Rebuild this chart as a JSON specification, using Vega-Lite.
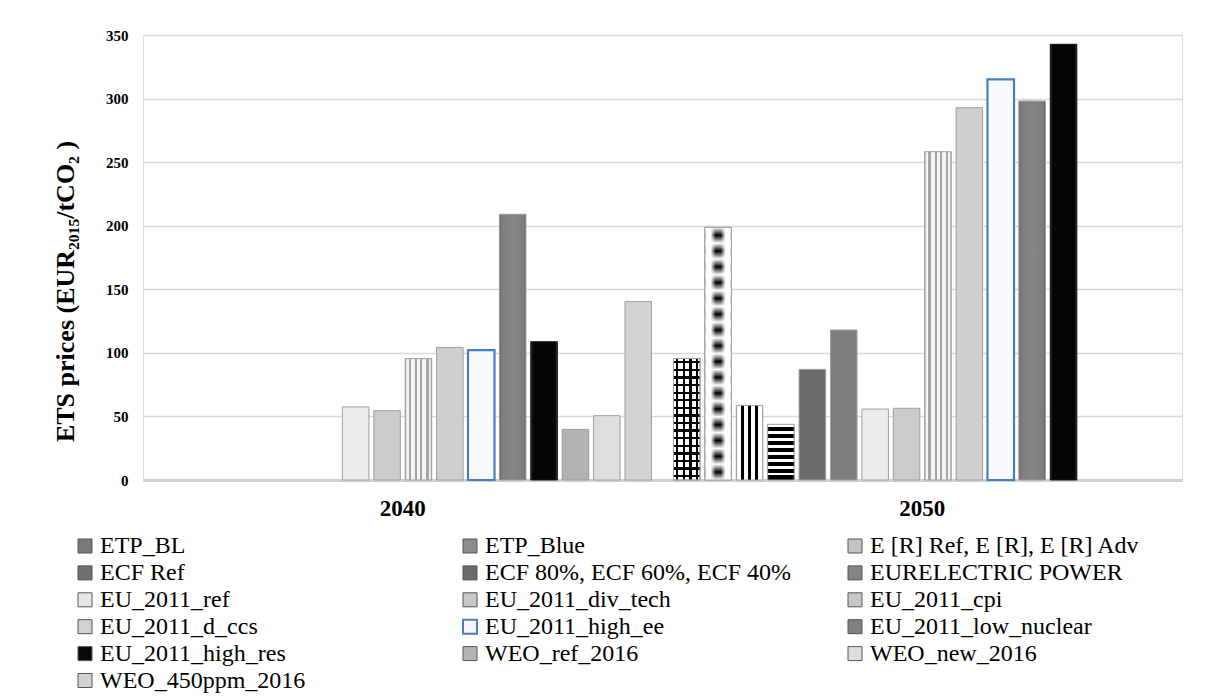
{
  "$schema": "https://vega.github.io/schema/vega-lite/v6.json",
  "width": 1039,
  "height": 445,
  "autosize": {"type": "none"},
  "padding": {"left": 143, "top": 35, "right": 24, "bottom": 220},
  "background": "white",
  "config": {"font": "Liberation Serif", "view": {"stroke": "#dcdcdc", "strokeWidth": 1}},
  "data": {"values": [
    {"year": "2040", "series": "EU_2011_ref", "value": 57.5},
    {"year": "2040", "series": "EU_2011_div_tech", "value": 54.5},
    {"year": "2040", "series": "EU_2011_cpi", "value": 95.5},
    {"year": "2040", "series": "EU_2011_d_ccs", "value": 104.3},
    {"year": "2040", "series": "EU_2011_high_ee", "value": 102.2},
    {"year": "2040", "series": "EU_2011_low_nuclear", "value": 209},
    {"year": "2040", "series": "EU_2011_high_res", "value": 108.7},
    {"year": "2040", "series": "WEO_ref_2016", "value": 39.8},
    {"year": "2040", "series": "WEO_new_2016", "value": 50.6},
    {"year": "2040", "series": "WEO_450ppm_2016", "value": 140.3},
    {"year": "2050", "series": "ETP_BL", "value": 95.6},
    {"year": "2050", "series": "ETP_Blue", "value": 198.7},
    {"year": "2050", "series": "E [R] Ref, E [R], E [R] Adv", "value": 58.7},
    {"year": "2050", "series": "ECF Ref", "value": 43.8},
    {"year": "2050", "series": "ECF 80%, ECF 60%, ECF 40%", "value": 87.0},
    {"year": "2050", "series": "EURELECTRIC POWER", "value": 118},
    {"year": "2050", "series": "EU_2011_ref", "value": 55.8},
    {"year": "2050", "series": "EU_2011_div_tech", "value": 56.4},
    {"year": "2050", "series": "EU_2011_cpi", "value": 258.2},
    {"year": "2050", "series": "EU_2011_d_ccs", "value": 292.8},
    {"year": "2050", "series": "EU_2011_high_ee", "value": 315.1},
    {"year": "2050", "series": "EU_2011_low_nuclear", "value": 298.1},
    {"year": "2050", "series": "EU_2011_high_res", "value": 342.7}
  ]},
  "encoding": {
    "x": {
      "field": "year", "type": "nominal",
      "scale": {"paddingInner": 0, "paddingOuter": 0},
      "axis": {"title": null, "labelAngle": 0, "labelFont": "Liberation Serif", "labelFontWeight": "bold", "labelFontSize": 23, "labelColor": "black", "labelPadding": 17, "ticks": false, "domainColor": "#d0d0d0", "domainWidth": 3, "grid": false}
    },
    "xOffset": {
      "field": "series", "type": "nominal",
      "scale": {"domain": ["ETP_BL","ETP_Blue","E [R] Ref, E [R], E [R] Adv","ECF Ref","ECF 80%, ECF 60%, ECF 40%","EURELECTRIC POWER","EU_2011_ref","EU_2011_div_tech","EU_2011_cpi","EU_2011_d_ccs","EU_2011_high_ee","EU_2011_low_nuclear","EU_2011_high_res","WEO_ref_2016","WEO_new_2016","WEO_450ppm_2016"], "paddingInner": 0.155, "paddingOuter": 0.35}
    },
    "y": {
      "field": "value", "type": "quantitative",
      "scale": {"domain": [0, 350]},
      "axis": {"title": "ETS prices  (EUR₂₀₁₅/tCO₂ )", "values": [0, 50, 100, 150, 200, 250, 300, 350], "grid": true, "gridColor": "#d9d9d9", "gridWidth": 1.5, "domain": false, "ticks": false, "labelFont": "Liberation Serif", "labelFontWeight": "bold", "labelFontSize": 15, "labelColor": "black", "labelPadding": 15, "titleFont": "Liberation Serif", "titleFontSize": 26, "titleFontWeight": "bold", "titleColor": "black", "titleX": -78, "titleY": 256, "titleAngle": -90, "titleAlign": "center", "titleBaseline": "middle"}
    }
  },
  "layer": [
    {
      "mark": {"type": "bar"},
      "encoding": {
        "fill": {
          "field": "series", "type": "nominal",
          "scale": {
            "domain": ["ETP_BL","ETP_Blue","E [R] Ref, E [R], E [R] Adv","ECF Ref","ECF 80%, ECF 60%, ECF 40%","EURELECTRIC POWER","EU_2011_ref","EU_2011_div_tech","EU_2011_cpi","EU_2011_d_ccs","EU_2011_high_ee","EU_2011_low_nuclear","EU_2011_high_res","WEO_ref_2016","WEO_new_2016","WEO_450ppm_2016"],
            "range": ["#7a7a7a","#8c8c8c","#c4c4c4","#707070","#6b6b6b","#858585","#e8e8e8","#c8c8c8","#c6c6c6","#d2d2d2","#f5f7fb","#808080","#0a0a0a","#b4b4b4","#dedede","#d2d2d2"]
          },
          "legend": {
            "orient": "none", "legendX": -70, "legendY": 499, "title": null,
            "columns": 3, "direction": "horizontal", "gridAlign": "all",
            "columnPadding": 51, "rowPadding": 2.9, "padding": 0,
            "symbolType": "square", "symbolSize": 196, "symbolStrokeWidth": 1, "symbolStrokeColor": "#555555",
            "labelFont": "Liberation Serif", "labelFontWeight": "normal", "labelFontSize": 24, "labelColor": "black", "labelOffset": 3, "labelLimit": 500,
            "encode": {
              "symbols": {"update": {
                "stroke": {"signal": "datum.value === 'EU_2011_high_ee' ? '#4a7ebb' : '#555555'"},
                "strokeWidth": {"signal": "datum.value === 'EU_2011_high_ee' ? 2 : 1"}
              }}
            }
          }
        }
      }
    },
    {
      "mark": {"type": "bar"},
      "encoding": {
        "fill": {
          "condition": [
            {"test": "datum.series === 'ETP_BL'", "value": {"gradient": "linear", "x1": 0, "y1": 0, "x2": 1, "y2": 0, "stops": [
              {"offset": 0, "color": "#ffffff"}, {"offset": 0.08, "color": "#ffffff"}, {"offset": 0.08, "color": "#000000"}, {"offset": 0.16, "color": "#000000"}, {"offset": 0.16, "color": "#ffffff"},
              {"offset": 0.34, "color": "#ffffff"}, {"offset": 0.34, "color": "#000000"}, {"offset": 0.42, "color": "#000000"}, {"offset": 0.42, "color": "#ffffff"},
              {"offset": 0.6, "color": "#ffffff"}, {"offset": 0.6, "color": "#000000"}, {"offset": 0.68, "color": "#000000"}, {"offset": 0.68, "color": "#ffffff"},
              {"offset": 0.86, "color": "#ffffff"}, {"offset": 0.86, "color": "#000000"}, {"offset": 0.94, "color": "#000000"}, {"offset": 0.94, "color": "#ffffff"}, {"offset": 1, "color": "#ffffff"}]}},
            {"test": "datum.series === 'ETP_Blue'", "value": {"gradient": "linear", "x1": 0, "y1": 0, "x2": 1, "y2": 0, "stops": [
              {"offset": 0, "color": "#d0d0d0"}, {"offset": 0.06, "color": "#ffffff"}, {"offset": 0.22, "color": "#ffffff"}, {"offset": 0.4, "color": "#000000"}, {"offset": 0.6, "color": "#000000"}, {"offset": 0.78, "color": "#ffffff"}, {"offset": 0.94, "color": "#ffffff"}, {"offset": 1, "color": "#d0d0d0"}]}},
            {"test": "datum.series === 'E [R] Ref, E [R], E [R] Adv'", "value": {"gradient": "linear", "x1": 0, "y1": 0, "x2": 1, "y2": 0, "stops": [
              {"offset": 0, "color": "#9a9a9a"}, {"offset": 0.05, "color": "#ffffff"}, {"offset": 0.18, "color": "#ffffff"}, {"offset": 0.18, "color": "#000000"}, {"offset": 0.29, "color": "#000000"}, {"offset": 0.29, "color": "#ffffff"},
              {"offset": 0.45, "color": "#ffffff"}, {"offset": 0.45, "color": "#000000"}, {"offset": 0.56, "color": "#000000"}, {"offset": 0.56, "color": "#ffffff"},
              {"offset": 0.72, "color": "#ffffff"}, {"offset": 0.72, "color": "#000000"}, {"offset": 0.83, "color": "#000000"}, {"offset": 0.83, "color": "#ffffff"}, {"offset": 0.95, "color": "#ffffff"}, {"offset": 1, "color": "#9a9a9a"}]}},
            {"test": "datum.series === 'ECF Ref'", "value": {"gradient": "linear", "x1": 0, "y1": 0, "x2": 0, "y2": 1, "stops": [
              {"offset": 0, "color": "#ffffff"},
              {"offset": 0.044, "color": "#ffffff"}, {"offset": 0.044, "color": "#000000"}, {"offset": 0.119, "color": "#000000"}, {"offset": 0.119, "color": "#ffffff"},
              {"offset": 0.169, "color": "#ffffff"}, {"offset": 0.169, "color": "#000000"}, {"offset": 0.244, "color": "#000000"}, {"offset": 0.244, "color": "#ffffff"},
              {"offset": 0.294, "color": "#ffffff"}, {"offset": 0.294, "color": "#000000"}, {"offset": 0.369, "color": "#000000"}, {"offset": 0.369, "color": "#ffffff"},
              {"offset": 0.419, "color": "#ffffff"}, {"offset": 0.419, "color": "#000000"}, {"offset": 0.494, "color": "#000000"}, {"offset": 0.494, "color": "#ffffff"},
              {"offset": 0.544, "color": "#ffffff"}, {"offset": 0.544, "color": "#000000"}, {"offset": 0.619, "color": "#000000"}, {"offset": 0.619, "color": "#ffffff"},
              {"offset": 0.669, "color": "#ffffff"}, {"offset": 0.669, "color": "#000000"}, {"offset": 0.744, "color": "#000000"}, {"offset": 0.744, "color": "#ffffff"},
              {"offset": 0.794, "color": "#ffffff"}, {"offset": 0.794, "color": "#000000"}, {"offset": 0.869, "color": "#000000"}, {"offset": 0.869, "color": "#ffffff"},
              {"offset": 0.919, "color": "#ffffff"}, {"offset": 0.919, "color": "#000000"}, {"offset": 0.994, "color": "#000000"}, {"offset": 0.994, "color": "#ffffff"},
              {"offset": 1, "color": "#ffffff"}]}},
            {"test": "datum.series === 'ECF 80%, ECF 60%, ECF 40%'", "value": "#6b6b6b"},
            {"test": "datum.series === 'EURELECTRIC POWER'", "value": "#7d7d7d"},
            {"test": "datum.series === 'EU_2011_ref'", "value": "#ececec"},
            {"test": "datum.series === 'EU_2011_div_tech'", "value": "#cbcbcb"},
            {"test": "datum.series === 'EU_2011_cpi'", "value": {"gradient": "linear", "x1": 0, "y1": 0, "x2": 1, "y2": 0, "stops": [
              {"offset": 0, "color": "#9a9a9a"}, {"offset": 0.06, "color": "#f4f4f4"}, {"offset": 0.14, "color": "#f4f4f4"}, {"offset": 0.14, "color": "#a6a6a6"}, {"offset": 0.22, "color": "#a6a6a6"}, {"offset": 0.22, "color": "#f4f4f4"},
              {"offset": 0.38, "color": "#f4f4f4"}, {"offset": 0.38, "color": "#a6a6a6"}, {"offset": 0.46, "color": "#a6a6a6"}, {"offset": 0.46, "color": "#f4f4f4"},
              {"offset": 0.56, "color": "#f4f4f4"}, {"offset": 0.56, "color": "#a6a6a6"}, {"offset": 0.64, "color": "#a6a6a6"}, {"offset": 0.64, "color": "#f4f4f4"},
              {"offset": 0.8, "color": "#f4f4f4"}, {"offset": 0.8, "color": "#a6a6a6"}, {"offset": 0.88, "color": "#a6a6a6"}, {"offset": 0.88, "color": "#f4f4f4"}, {"offset": 0.94, "color": "#f4f4f4"}, {"offset": 1, "color": "#9a9a9a"}]}},
            {"test": "datum.series === 'EU_2011_d_ccs'", "value": "#cfcfcf"},
            {"test": "datum.series === 'EU_2011_high_ee'", "value": "#f8fafd"},
            {"test": "datum.series === 'EU_2011_low_nuclear'", "value": {"gradient": "linear", "x1": 0, "y1": 0, "x2": 1, "y2": 0, "stops": [
              {"offset": 0, "color": "#5c5c5c"}, {"offset": 0.08, "color": "#7d7d7d"}, {"offset": 0.5, "color": "#878787"}, {"offset": 0.92, "color": "#7d7d7d"}, {"offset": 1, "color": "#5c5c5c"}]}},
            {"test": "datum.series === 'EU_2011_high_res'", "value": {"gradient": "linear", "x1": 0, "y1": 0, "x2": 1, "y2": 0, "stops": [
              {"offset": 0, "color": "#3a3a3a"}, {"offset": 0.08, "color": "#050505"}, {"offset": 0.92, "color": "#050505"}, {"offset": 1, "color": "#3a3a3a"}]}},
            {"test": "datum.series === 'WEO_ref_2016'", "value": "#b2b2b2"},
            {"test": "datum.series === 'WEO_new_2016'", "value": "#dedede"},
            {"test": "datum.series === 'WEO_450ppm_2016'", "value": "#d3d3d3"}
          ],
          "value": "#cccccc"
        },
        "stroke": {
          "condition": [
            {"test": "datum.series === 'EU_2011_high_ee'", "value": "#4a7ebb"},
            {"test": "datum.series === 'EU_2011_high_res'", "value": "#1a1a1a"}
          ],
          "value": "#a0a0a0"
        },
        "strokeWidth": {
          "condition": [{"test": "datum.series === 'EU_2011_high_ee'", "value": 2.2}],
          "value": 1
        }
      }
    },
    {
      "transform": [{"filter": {"field": "series", "oneOf": ["ETP_BL", "ETP_Blue"]}}],
      "mark": {"type": "bar", "stroke": "#a0a0a0", "strokeWidth": 1},
      "encoding": {
        "fill": {
          "condition": [
            {"test": "datum.series === 'ETP_BL'", "value": {"gradient": "linear", "x1": 0, "y1": 0, "x2": 0, "y2": 1, "stops": [
              {"offset": 0, "color": "rgba(0,0,0,0)"},
              {"offset": 0.0219, "color": "rgba(0,0,0,0)"}, {"offset": 0.0219, "color": "#000000"}, {"offset": 0.0406, "color": "#000000"}, {"offset": 0.0406, "color": "rgba(0,0,0,0)"},
              {"offset": 0.0844, "color": "rgba(0,0,0,0)"}, {"offset": 0.0844, "color": "#000000"}, {"offset": 0.1031, "color": "#000000"}, {"offset": 0.1031, "color": "rgba(0,0,0,0)"},
              {"offset": 0.1469, "color": "rgba(0,0,0,0)"}, {"offset": 0.1469, "color": "#000000"}, {"offset": 0.1656, "color": "#000000"}, {"offset": 0.1656, "color": "rgba(0,0,0,0)"},
              {"offset": 0.2094, "color": "rgba(0,0,0,0)"}, {"offset": 0.2094, "color": "#000000"}, {"offset": 0.2281, "color": "#000000"}, {"offset": 0.2281, "color": "rgba(0,0,0,0)"},
              {"offset": 0.2719, "color": "rgba(0,0,0,0)"}, {"offset": 0.2719, "color": "#000000"}, {"offset": 0.2906, "color": "#000000"}, {"offset": 0.2906, "color": "rgba(0,0,0,0)"},
              {"offset": 0.3344, "color": "rgba(0,0,0,0)"}, {"offset": 0.3344, "color": "#000000"}, {"offset": 0.3531, "color": "#000000"}, {"offset": 0.3531, "color": "rgba(0,0,0,0)"},
              {"offset": 0.3969, "color": "rgba(0,0,0,0)"}, {"offset": 0.3969, "color": "#000000"}, {"offset": 0.4156, "color": "#000000"}, {"offset": 0.4156, "color": "rgba(0,0,0,0)"},
              {"offset": 0.4594, "color": "rgba(0,0,0,0)"}, {"offset": 0.4594, "color": "#000000"}, {"offset": 0.4781, "color": "#000000"}, {"offset": 0.4781, "color": "rgba(0,0,0,0)"},
              {"offset": 0.5219, "color": "rgba(0,0,0,0)"}, {"offset": 0.5219, "color": "#000000"}, {"offset": 0.5406, "color": "#000000"}, {"offset": 0.5406, "color": "rgba(0,0,0,0)"},
              {"offset": 0.5844, "color": "rgba(0,0,0,0)"}, {"offset": 0.5844, "color": "#000000"}, {"offset": 0.6031, "color": "#000000"}, {"offset": 0.6031, "color": "rgba(0,0,0,0)"},
              {"offset": 0.6469, "color": "rgba(0,0,0,0)"}, {"offset": 0.6469, "color": "#000000"}, {"offset": 0.6656, "color": "#000000"}, {"offset": 0.6656, "color": "rgba(0,0,0,0)"},
              {"offset": 0.7094, "color": "rgba(0,0,0,0)"}, {"offset": 0.7094, "color": "#000000"}, {"offset": 0.7281, "color": "#000000"}, {"offset": 0.7281, "color": "rgba(0,0,0,0)"},
              {"offset": 0.7719, "color": "rgba(0,0,0,0)"}, {"offset": 0.7719, "color": "#000000"}, {"offset": 0.7906, "color": "#000000"}, {"offset": 0.7906, "color": "rgba(0,0,0,0)"},
              {"offset": 0.8344, "color": "rgba(0,0,0,0)"}, {"offset": 0.8344, "color": "#000000"}, {"offset": 0.8531, "color": "#000000"}, {"offset": 0.8531, "color": "rgba(0,0,0,0)"},
              {"offset": 0.8969, "color": "rgba(0,0,0,0)"}, {"offset": 0.8969, "color": "#000000"}, {"offset": 0.9156, "color": "#000000"}, {"offset": 0.9156, "color": "rgba(0,0,0,0)"},
              {"offset": 0.9594, "color": "rgba(0,0,0,0)"}, {"offset": 0.9594, "color": "#000000"}, {"offset": 0.9781, "color": "#000000"}, {"offset": 0.9781, "color": "rgba(0,0,0,0)"},
              {"offset": 1, "color": "rgba(0,0,0,0)"}]}}
          ],
          "value": {"gradient": "linear", "x1": 0, "y1": 0, "x2": 0, "y2": 1, "stops": [
            {"offset": 0, "color": "rgba(255,255,255,1)"}, {"offset": 0.03125, "color": "rgba(255,255,255,0)"},
            {"offset": 0.0625, "color": "rgba(255,255,255,1)"}, {"offset": 0.09375, "color": "rgba(255,255,255,0)"},
            {"offset": 0.125, "color": "rgba(255,255,255,1)"}, {"offset": 0.15625, "color": "rgba(255,255,255,0)"},
            {"offset": 0.1875, "color": "rgba(255,255,255,1)"}, {"offset": 0.21875, "color": "rgba(255,255,255,0)"},
            {"offset": 0.25, "color": "rgba(255,255,255,1)"}, {"offset": 0.28125, "color": "rgba(255,255,255,0)"},
            {"offset": 0.3125, "color": "rgba(255,255,255,1)"}, {"offset": 0.34375, "color": "rgba(255,255,255,0)"},
            {"offset": 0.375, "color": "rgba(255,255,255,1)"}, {"offset": 0.40625, "color": "rgba(255,255,255,0)"},
            {"offset": 0.4375, "color": "rgba(255,255,255,1)"}, {"offset": 0.46875, "color": "rgba(255,255,255,0)"},
            {"offset": 0.5, "color": "rgba(255,255,255,1)"}, {"offset": 0.53125, "color": "rgba(255,255,255,0)"},
            {"offset": 0.5625, "color": "rgba(255,255,255,1)"}, {"offset": 0.59375, "color": "rgba(255,255,255,0)"},
            {"offset": 0.625, "color": "rgba(255,255,255,1)"}, {"offset": 0.65625, "color": "rgba(255,255,255,0)"},
            {"offset": 0.6875, "color": "rgba(255,255,255,1)"}, {"offset": 0.71875, "color": "rgba(255,255,255,0)"},
            {"offset": 0.75, "color": "rgba(255,255,255,1)"}, {"offset": 0.78125, "color": "rgba(255,255,255,0)"},
            {"offset": 0.8125, "color": "rgba(255,255,255,1)"}, {"offset": 0.84375, "color": "rgba(255,255,255,0)"},
            {"offset": 0.875, "color": "rgba(255,255,255,1)"}, {"offset": 0.90625, "color": "rgba(255,255,255,0)"},
            {"offset": 0.9375, "color": "rgba(255,255,255,1)"}, {"offset": 0.96875, "color": "rgba(255,255,255,0)"},
            {"offset": 1, "color": "rgba(255,255,255,1)"}]}
        }
      }
    }
  ]
}
